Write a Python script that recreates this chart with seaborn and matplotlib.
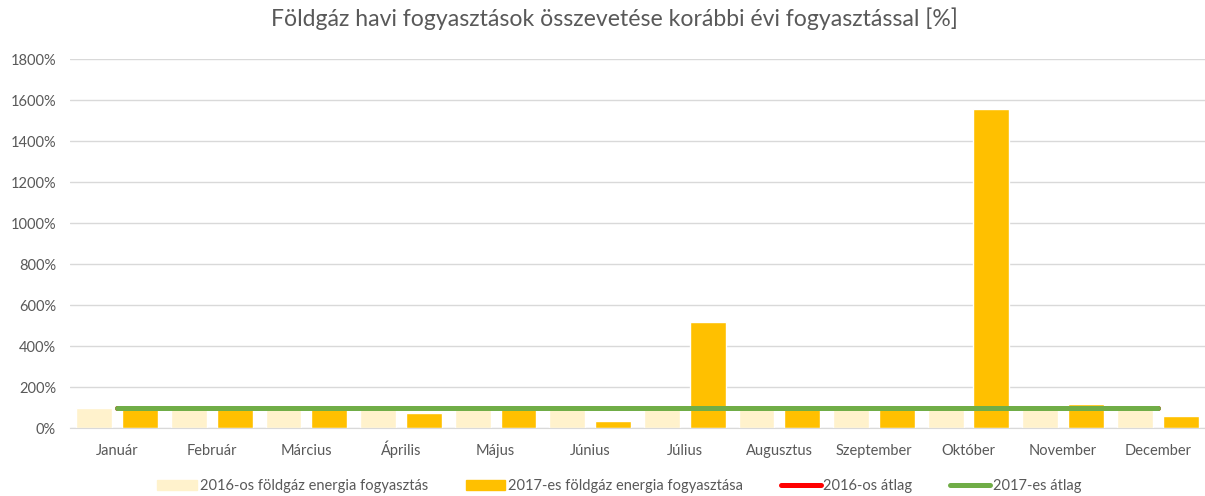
import pandas as pd
import matplotlib.pyplot as plt
import seaborn as sns
from matplotlib.patches import Patch
from matplotlib.lines import Line2D
from matplotlib.ticker import FuncFormatter

MONTHS = ['Január', 'Február', 'Március', 'Április', 'Május', 'Június',
          'Július', 'Augusztus', 'Szeptember', 'Október', 'November', 'December']
USE_2016 = [100, 100, 100, 100, 100, 100, 100, 100, 100, 100, 100, 100]
USE_2017 = [100, 100, 100, 73, 100, 34, 517, 100, 100, 1556, 115, 57]
AVG_2016 = [100] * 12
AVG_2017 = [100] * 12

LABEL_16 = '2016-os földgáz energia fogyasztás'
LABEL_17 = '2017-es földgáz energia fogyasztása'
GREY = '#595959'


def build_df():
    df = pd.DataFrame({'month': MONTHS * 2,
                       'value': USE_2016 + USE_2017,
                       'series': [LABEL_16] * 12 + [LABEL_17] * 12})
    return df


def plot(df):
    sns.set_style('white')
    plt.rcParams['font.family'] = ['Lato', 'DejaVu Sans']
    fig = plt.figure(figsize=(12.05, 4.96), dpi=100)
    ax = fig.add_axes([0.058, 0.137, 0.942, 0.744])

    sns.barplot(data=df, x='month', y='value', hue='series',
                palette=['#FFF2CC', '#FFC000'], width=0.968, gap=0.217,
                order=MONTHS, ax=ax, legend=False, saturation=1)
    sns.lineplot(x=MONTHS, y=AVG_2016, color='#FF0000', lw=3.6, sort=False, ax=ax)
    sns.lineplot(x=MONTHS, y=AVG_2017, color='#70AD47', lw=3.6, sort=False, ax=ax)

    ax.set_xlim(-0.5, 11.5)
    ax.set_ylim(0, 1800)
    ax.set_yticks(range(0, 1801, 200))
    ax.yaxis.set_major_formatter(FuncFormatter(lambda v, p: '{:.0f}%'.format(v)))
    ax.grid(axis='y', color='#D9D9D9', lw=1)
    ax.set_axisbelow(True)
    for side in ['top', 'right', 'left']:
        ax.spines[side].set_visible(False)
    ax.spines['bottom'].set_color('#D9D9D9')
    ax.tick_params(axis='both', length=0, colors=GREY, labelsize=10.5)
    ax.tick_params(axis='y', pad=10)
    ax.tick_params(axis='x', pad=19.5)
    for t in ax.get_xticklabels():
        t.set_va('baseline')
    ax.set_xlabel('')
    ax.set_ylabel('')

    fig.suptitle('Földgáz havi fogyasztások összevetése korábbi évi fogyasztással [%]',
                 x=0.51, y=0.985, fontsize=16.6, color=GREY)

    handles = [Patch(color='#FFF2CC'), Patch(color='#FFC000'),
               Line2D([], [], color='#FF0000', lw=3.6),
               Line2D([], [], color='#70AD47', lw=3.6)]
    labels = [LABEL_16, LABEL_17, '2016-os átlag', '2017-es átlag']
    leg = fig.legend(handles, labels, loc='center', bbox_to_anchor=(0.514, 0.02),
                     ncol=4, frameon=False, fontsize=10.5, handlelength=2.7,
                     handletextpad=0.2, columnspacing=2.6)
    for t in leg.get_texts():
        t.set_color(GREY)

    fig.savefig('out.png', dpi=100)


if __name__ == '__main__':
    df = build_df()
    plot(df)
